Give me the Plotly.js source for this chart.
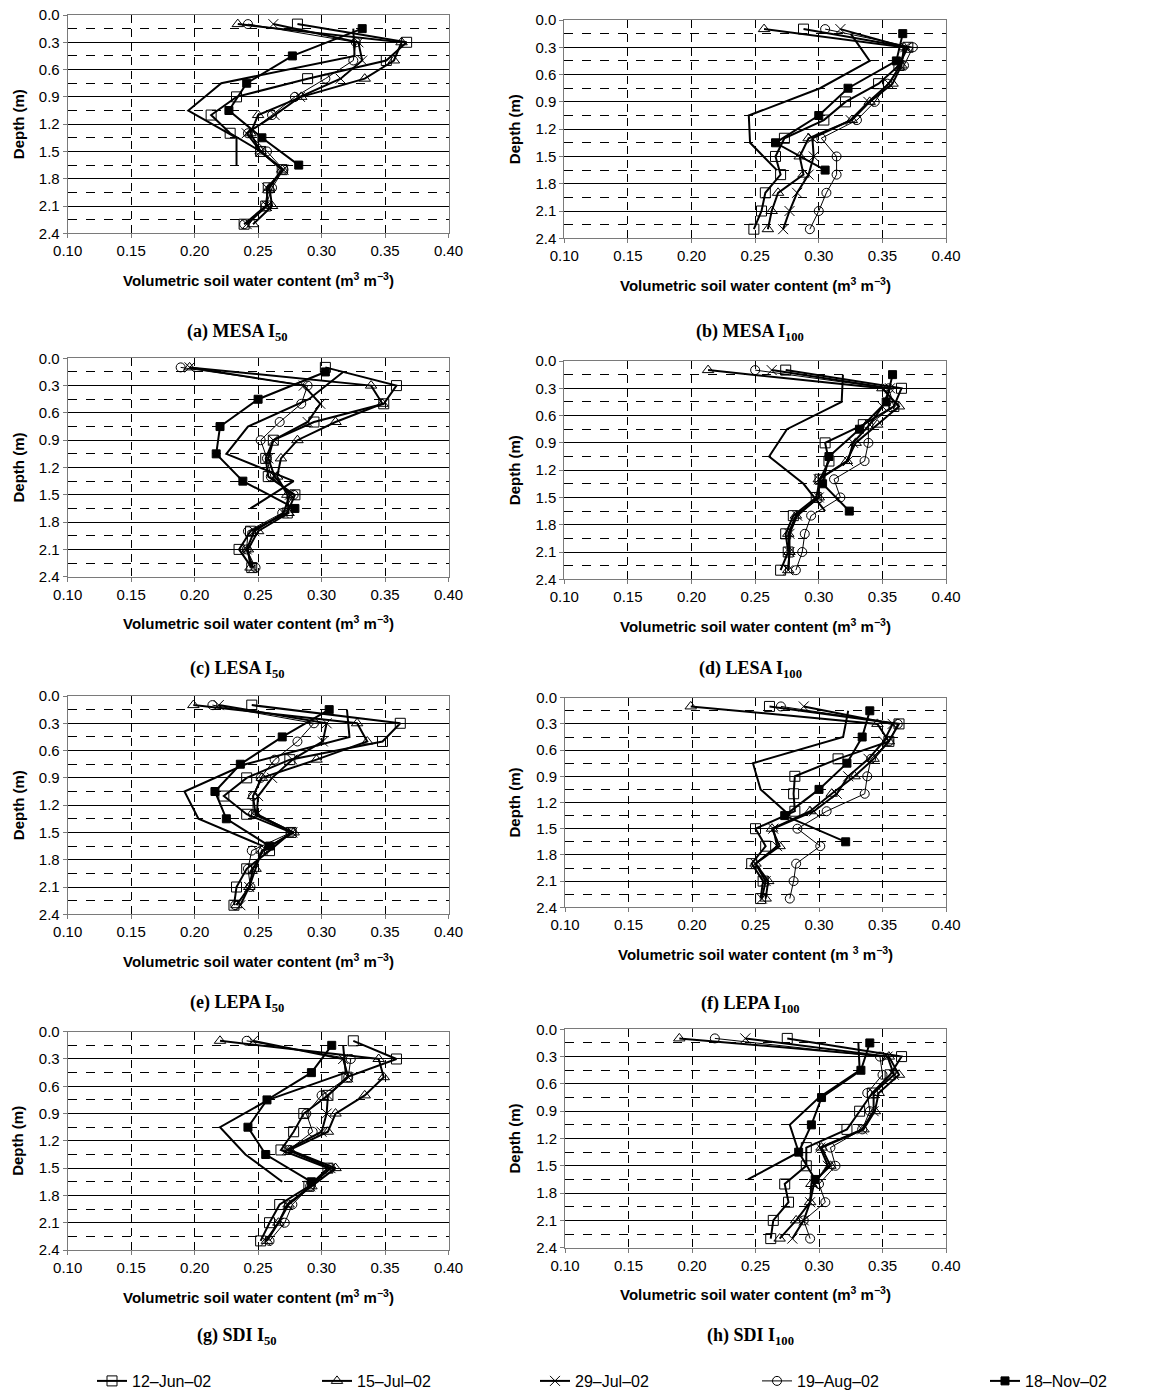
<!DOCTYPE html>
<html><head><meta charset="utf-8">
<script src="https://cdn.plot.ly/plotly-3.0.1.min.js"></script>
<style>html,body{margin:0;padding:0;background:#fff}#chart{width:1166px;height:1399px}</style>
</head><body><div id="chart"></div>
<script>
// ---------------- data ----------------
const depthNP  = [0.1,0.3,0.5,0.7,0.9,1.1,1.3,1.5,1.7,1.9,2.1,2.3];
const depthTDR = [0.15,0.45,0.75,1.05,1.35,1.65];
const seriesNames = ['12–Jun–02','15–Jul–02','29–Jul–02','19–Aug–02','18–Nov–02'];
const xTickVals = [0.10,0.15,0.20,0.25,0.30,0.35,0.40];
const xTickText = ['0.10','0.15','0.20','0.25','0.30','0.35','0.40'];
const yTickVals = [0.0,0.3,0.6,0.9,1.2,1.5,1.8,2.1,2.4];
const yTickText = ['0.0','0.3','0.6','0.9','1.2','1.5','1.8','2.1','2.4'];
const panelLabels = ['(a) MESA I<sub>50</sub>','(b) MESA I<sub>100</sub>','(c) LESA I<sub>50</sub>','(d) LESA I<sub>100</sub>',
                     '(e) LEPA I<sub>50</sub>','(f) LEPA I<sub>100</sub>','(g) SDI I<sub>50</sub>','(h) SDI I<sub>100</sub>'];

// (a) MESA I50
const a_12jun = [0.281,0.367,0.351,0.289,0.233,0.213,0.228,0.252,0.269,0.258,0.256,0.239];
const a_15jul = [0.234,0.363,0.357,0.334,0.284,0.250,0.244,0.252,0.269,0.259,0.261,0.246];
const a_29jul = [0.262,0.329,0.332,0.315,0.283,0.263,0.241,0.252,0.270,0.257,0.257,0.241];
const a_19aug = [0.242,0.327,0.325,0.303,0.279,0.261,0.242,0.257,0.270,0.261,0.256,0.239];
const a_18nov = [0.332,0.277,0.241,0.227,0.253,0.282];
const a_other = [0.325,0.326,0.221,0.195,0.233,0.233];
// (b) MESA I100
const b_12jun = [0.288,0.370,0.363,0.347,0.321,0.304,0.273,0.266,0.270,0.258,0.255,0.249];
const b_15jul = [0.257,0.367,0.365,0.358,0.340,0.326,0.292,0.285,0.288,0.268,0.263,0.260];
const b_29jul = [0.317,0.368,0.364,0.355,0.339,0.325,0.295,0.296,0.292,0.283,0.277,0.272];
const b_19aug = [0.305,0.374,0.367,0.354,0.344,0.330,0.302,0.314,0.314,0.306,0.300,0.293];
const b_18nov = [0.366,0.361,0.323,0.300,0.266,0.305];
const b_other = [0.325,0.340,0.301,0.245,0.246,0.267];
// (c) LESA I50
const c_12jun = [0.303,0.359,0.349,0.294,0.262,0.256,0.258,0.279,0.273,0.244,0.235,0.245];
const c_15jul = [0.196,0.339,0.348,0.311,0.281,0.268,0.265,0.273,0.274,0.250,0.242,0.244];
const c_29jul = [0.196,0.286,0.299,0.289,0.262,0.258,0.263,0.275,0.270,0.247,0.241,0.246];
const c_19aug = [0.189,0.289,0.284,0.267,0.252,0.257,0.260,0.278,0.269,0.242,0.241,0.248];
const c_18nov = [0.303,0.250,0.220,0.217,0.238,0.279];
const c_other = [0.317,0.290,0.242,0.225,0.278,0.244];
// (d) LESA I100
const d_12jun = [0.274,0.365,0.359,0.335,0.305,0.308,0.301,0.298,0.280,0.274,0.276,0.270];
const d_15jul = [0.213,0.350,0.363,0.346,0.329,0.322,0.300,0.300,0.282,0.276,0.277,0.276];
const d_29jul = [0.263,0.356,0.350,0.340,0.327,0.323,0.300,0.300,0.283,0.277,0.277,0.276];
const d_19aug = [0.250,0.355,0.359,0.339,0.339,0.336,0.312,0.317,0.294,0.289,0.287,0.282];
const d_18nov = [0.358,0.353,0.332,0.308,0.303,0.324];
const d_other = [0.319,0.318,0.275,0.261,0.288,0.305];
// (e) LEPA I50
const e_12jun = [0.245,0.362,0.348,0.275,0.241,0.223,0.241,0.276,0.259,0.241,0.233,0.231];
const e_15jul = [0.199,0.328,0.336,0.296,0.253,0.246,0.248,0.278,0.253,0.248,0.243,0.233];
const e_29jul = [0.219,0.304,0.301,0.277,0.261,0.250,0.249,0.277,0.254,0.246,0.243,0.236];
const e_19aug = [0.214,0.294,0.281,0.263,0.252,0.246,0.246,0.276,0.245,0.242,0.244,0.232];
const e_18nov = [0.306,0.269,0.236,0.216,0.225,0.259];
const e_other = [0.320,0.322,0.240,0.192,0.203,0.254];
// (f) LEPA I100
const f_12jun = [0.261,0.363,0.355,0.315,0.281,0.280,0.281,0.250,0.258,0.247,0.256,0.254];
const f_15jul = [0.199,0.346,0.355,0.343,0.328,0.310,0.293,0.263,0.269,0.250,0.260,0.258];
const f_29jul = [0.288,0.358,0.351,0.339,0.323,0.314,0.296,0.264,0.267,0.250,0.258,0.255];
const f_19aug = [0.270,0.362,0.355,0.341,0.338,0.336,0.306,0.283,0.301,0.282,0.280,0.277];
const f_18nov = [0.340,0.334,0.322,0.300,0.273,0.321];
const f_other = [0.323,0.319,0.248,0.254,0.277,null];
// (g) SDI I50
const g_12jun = [0.325,0.359,0.320,0.305,0.286,0.278,0.268,0.305,0.290,0.267,0.259,0.252];
const g_15jul = [0.220,0.345,0.349,0.334,0.311,0.305,0.275,0.311,0.292,0.274,0.266,0.257];
const g_29jul = [0.246,0.317,0.321,0.305,0.304,0.300,0.273,0.307,0.291,0.273,0.266,0.256];
const g_19aug = [0.241,0.323,0.321,0.300,0.288,0.293,0.274,0.307,0.291,0.277,0.271,0.259];
const g_18nov = [0.308,0.292,0.257,0.242,0.256,0.292];
const g_other = [0.317,0.319,0.258,0.220,0.240,0.269];
// (h) SDI I100
const h_12jun = [0.275,0.365,0.356,0.342,0.332,0.322,0.290,0.290,0.273,0.276,0.264,0.262];
const h_15jul = [0.190,0.355,0.363,0.347,0.344,0.335,0.302,0.309,0.294,0.293,0.282,0.269];
const h_29jul = [0.242,0.354,0.359,0.343,0.343,0.334,0.301,0.307,0.296,0.293,0.288,0.279];
const h_19aug = [0.218,0.348,0.350,0.338,0.340,0.334,0.309,0.313,0.300,0.305,0.288,0.293];
const h_18nov = [0.340,0.333,0.302,0.294,0.284,0.297];
const h_other = [0.331,0.332,0.300,0.277,0.284,0.244];

// ---------------- build ----------------
const panels = [
  [a_12jun,a_15jul,a_29jul,a_19aug,a_18nov,a_other],
  [b_12jun,b_15jul,b_29jul,b_19aug,b_18nov,b_other],
  [c_12jun,c_15jul,c_29jul,c_19aug,c_18nov,c_other],
  [d_12jun,d_15jul,d_29jul,d_19aug,d_18nov,d_other],
  [e_12jun,e_15jul,e_29jul,e_19aug,e_18nov,e_other],
  [f_12jun,f_15jul,f_29jul,f_19aug,f_18nov,f_other],
  [g_12jun,g_15jul,g_29jul,g_19aug,g_18nov,g_other],
  [h_12jun,h_15jul,h_29jul,h_19aug,h_18nov,h_other]
];

const W = 1166, H = 1399;
const boxes = [
  {x0:67.7, x1:448.5, y0:15,    y1:233.3},
  {x0:564.3,x1:946,   y0:20,    y1:238.3},
  {x0:67.7, x1:448.5, y0:358.3, y1:576.7},
  {x0:564.3,x1:946,   y0:361,   y1:579.3},
  {x0:67.7, x1:448.5, y0:696,   y1:914.3},
  {x0:565,  x1:946,   y0:697.7, y1:907.3},
  {x0:67.7, x1:448.5, y0:1031.7,y1:1250},
  {x0:565,  x1:946,   y0:1029.3,y1:1247.7}
];
const captionY = [332,332,669,669,1003,1004,1336,1336];
const legendX = [92,317,535,757,985];
const legendY = 1381;

const styles = [
  {symbol:'square-open',      size:10, lw:2},
  {symbol:'triangle-up-open', size:10, lw:2},
  {symbol:'x-thin-open',      size:10, lw:2},
  {symbol:'circle-open',      size:9,  lw:1},
  {symbol:'square',           size:8,  lw:2}
];

const FONT = 'Liberation Sans, Arial, sans-serif';
const SERIF = 'Liberation Serif, Times New Roman, serif';
const traces = [];
const layout = {
  width: W, height: H,
  margin: {l:0, r:0, t:0, b:0},
  paper_bgcolor: '#fff', plot_bgcolor: '#fff',
  font: {family: FONT, color: '#000', size: 15},
  showlegend: true,
  annotations: []
};
const legendKeys = ['legend','legend2','legend3','legend4','legend5'];
legendKeys.forEach((k, j) => {
  layout[k] = {orientation:'h', x: legendX[j] / W, xanchor:'left', y: 1 - legendY / H, yanchor:'middle',
               font:{family:FONT, size:16, color:'#000'}, bgcolor:'rgba(0,0,0,0)',
               borderwidth:0, itemclick:false, itemdoubleclick:false};
});

panels.forEach((sets, i) => {
  const n = i === 0 ? '' : String(i + 1);
  const b = boxes[i];
  for (let s = 0; s < 5; s++) {
    const st = styles[s];
    traces.push({
      type:'scatter', mode:'lines+markers',
      x: sets[s], y: s === 4 ? depthTDR : depthNP,
      xaxis:'x' + n, yaxis:'y' + n,
      name: seriesNames[s], legend: legendKeys[s], legendgroup: seriesNames[s], showlegend: i === 0,
      line:{color:'#000', width: st.lw},
      marker:{symbol: st.symbol, size: st.size, color:'#000', line:{color:'#000', width:1}},
      cliponaxis:false
    });
  }
  traces.push({
    type:'scatter', mode:'lines', x: sets[5], y: depthTDR,
    xaxis:'x' + n, yaxis:'y' + n, showlegend:false, hoverinfo:'skip',
    line:{color:'#000', width:2}, connectgaps:false
  });

  layout['xaxis' + n] = {
    domain:[b.x0 / W, b.x1 / W], anchor:'y' + n, range:[0.10, 0.40],
    tickvals: xTickVals, ticktext: xTickText,
    showgrid:true, gridcolor:'#000', gridwidth:1, griddash:'8px,6px',
    zeroline:false, showline:true, linecolor:'#7a7a7a', linewidth:1, mirror:true,
    ticks:'outside', ticklen:4, tickcolor:'#7a7a7a',
    tickfont:{family:FONT, size:15, color:'#000'}, automargin:false, fixedrange:true
  };
  layout['yaxis' + n] = {
    domain:[1 - b.y1 / H, 1 - b.y0 / H], anchor:'x' + n, range:[2.4, 0],
    tickvals: yTickVals, ticktext: yTickText,
    showgrid:true, gridcolor:'#000', gridwidth:1,
    minor:{dtick:0.15, tick0:0, showgrid:true, gridcolor:'#000', gridwidth:1, griddash:'9px,9px', ticks:''},
    zeroline:false, showline:true, linecolor:'#7a7a7a', linewidth:1, mirror:true,
    ticks:'outside', ticklen:4, tickcolor:'#7a7a7a',
    tickfont:{family:FONT, size:15, color:'#000'}, automargin:false, fixedrange:true
  };

  const xt = i === 5 ? 'Volumetric soil water content (m <sup>3</sup> m<sup>−3</sup>)'
                     : 'Volumetric soil water content (m<sup>3</sup> m<sup>−3</sup>)';
  layout.annotations.push({
    xref:'paper', yref:'paper', x: (b.x0 + b.x1) / 2 / W, y: 1 - (b.y1 + 46) / H,
    xanchor:'center', yanchor:'middle', showarrow:false,
    text:'<b>' + xt + '</b>', font:{family:FONT, size:15, color:'#000'}
  });
  layout.annotations.push({
    xref:'paper', yref:'paper', x: (i % 2 === 0 ? 18 : 514) / W, y: 1 - (b.y0 + b.y1) / 2 / H,
    xanchor:'center', yanchor:'middle', showarrow:false, textangle:-90,
    text:'<b>Depth (m)</b>', font:{family:FONT, size:15, color:'#000'}
  });
  layout.annotations.push({
    xref:'paper', yref:'paper', x: (i % 2 === 0 ? 237 : 750) / W, y: 1 - captionY[i] / H,
    xanchor:'center', yanchor:'middle', showarrow:false,
    text:'<b>' + panelLabels[i] + '</b>', font:{family:SERIF, size:18, color:'#000'}
  });
});

Plotly.newPlot('chart', traces, layout, {staticPlot:true, displayModeBar:false});
</script>
</body></html>
